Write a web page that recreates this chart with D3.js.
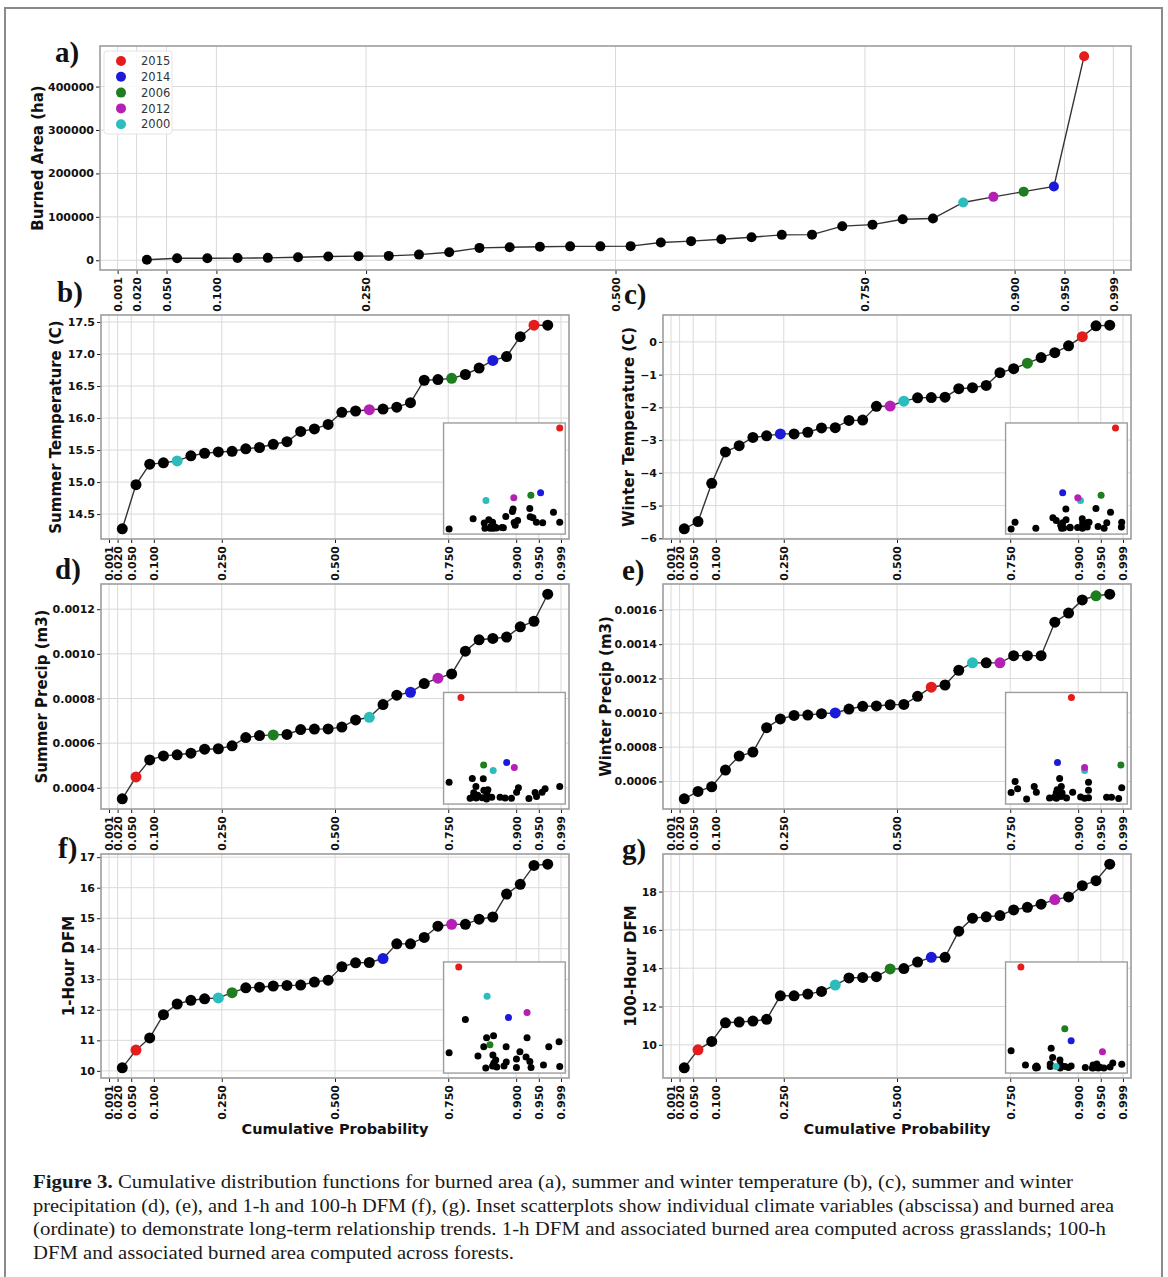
<!DOCTYPE html>
<html>
<head>
<meta charset="utf-8">
<script src="https://cdn.jsdelivr.net/npm/d3@7"></script>
<style>
  body { margin: 0; background: #fff; }
  svg { display: block; }
</style>
</head>
<body>
<svg id="fig" width="1168" height="1277"></svg>
<script>
// x-axis probability ticks (shared by all panels)
const probTicks = [0.001, 0.02, 0.05, 0.1, 0.25, 0.5, 0.75, 0.9, 0.95, 0.999];

// highlighted years and their colours
const years = ['2015', '2014', '2006', '2012', '2000'];
const yearColors = ['#e41c1c', '#1a1ad8', '#1e7d1e', '#b41fb4', '#2bbcbc'];

// sorted values, 32 years each
const burnedArea = [1000, 4500, 4500, 5000, 5500, 7000, 8500, 9500, 10000, 13000, 18500, 28500, 30000, 31000, 32000, 32000,
  32500, 41000, 44000, 48500, 53000, 58500, 59000, 78500, 82000, 94500, 96000, 133000, 146000, 158000, 170000, 470000];
const summerTemp = [14.27, 14.96, 15.28, 15.30, 15.33, 15.41, 15.45, 15.47, 15.48, 15.52, 15.54, 15.59, 15.63, 15.79, 15.83, 15.90,
  16.09, 16.11, 16.13, 16.14, 16.17, 16.24, 16.59, 16.60, 16.62, 16.68, 16.78, 16.90, 16.96, 17.27, 17.45, 17.45];
const winterTemp = [-5.71, -5.49, -4.32, -3.36, -3.17, -2.92, -2.87, -2.81, -2.81, -2.76, -2.63, -2.62, -2.40, -2.39, -1.97, -1.96,
  -1.81, -1.71, -1.70, -1.69, -1.43, -1.40, -1.33, -0.94, -0.82, -0.65, -0.48, -0.33, -0.12, 0.16, 0.49, 0.51];
const summerPrecip = [0.000351, 0.000449, 0.000525, 0.000543, 0.000548, 0.000555, 0.000573, 0.000575, 0.000588, 0.000625, 0.000634,
  0.000637, 0.000639, 0.000661, 0.000663, 0.000664, 0.000672, 0.000704, 0.000716, 0.000773, 0.000815, 0.000828, 0.000867, 0.000891,
  0.000910, 0.001012, 0.001063, 0.001069, 0.001075, 0.001121, 0.001146, 0.001267];
const winterPrecip = [0.000499, 0.000542, 0.000569, 0.000666, 0.000748, 0.000771, 0.000913, 0.000964, 0.000985, 0.000987, 0.000995,
  0.000999, 0.001022, 0.001038, 0.001040, 0.001047, 0.001049, 0.001096, 0.001149, 0.001162, 0.001248, 0.001291, 0.001291, 0.001291,
  0.001333, 0.001333, 0.001333, 0.001528, 0.001581, 0.001658, 0.001682, 0.001691];
const dfm1 = [10.10, 10.68, 11.08, 11.84, 12.19, 12.31, 12.36, 12.39, 12.56, 12.72, 12.74, 12.78, 12.80, 12.81, 12.91, 12.97,
  13.41, 13.54, 13.55, 13.68, 14.16, 14.16, 14.37, 14.74, 14.80, 14.80, 14.97, 15.04, 15.79, 16.11, 16.73, 16.77];
const dfm100 = [8.80, 9.74, 10.18, 11.15, 11.19, 11.24, 11.33, 12.56, 12.56, 12.65, 12.79, 13.12, 13.49, 13.52, 13.56, 13.96,
  13.98, 14.32, 14.57, 14.57, 15.93, 16.61, 16.68, 16.75, 17.04, 17.18, 17.34, 17.58, 17.72, 18.31, 18.57, 19.43];

// rank (1-based) of 2015, 2014, 2006, 2012, 2000 in each sorted series
const areaHi = [32, 31, 30, 29, 28];
const summerTempHi = [31, 28, 25, 19, 5];
const winterTempHi = [30, 8, 26, 16, 17];
const summerPrecipHi = [2, 22, 12, 24, 19];
const winterPrecipHi = [19, 12, 31, 24, 22];
const dfm1Hi = [2, 20, 9, 25, 8];
const dfm100Hi = [2, 19, 16, 28, 12];

// burned area of highlighted years in the insets (grassland / forest insets in relative units)
const yearArea = [470000, 170000, 158000, 146000, 133000];
const grassYearArea = [100, 50, 23, 55, 71];
const forestYearArea = [100, 27, 39, 16, 1.6];

// inset scatter, remaining years: [climate value, burned area]
const insetSummerTemp = [[14.27, 1000], [14.96, 48500], [15.28, 28500], [15.30, 4500], [15.41, 44000], [15.45, 5000], [15.47, 13000],
  [15.48, 9500], [15.52, 32000], [15.54, 4500], [15.59, 10000], [15.63, 5500], [15.79, 8500], [15.83, 7000], [15.90, 59000],
  [16.09, 82000], [16.11, 94500], [16.14, 31000], [16.17, 18500], [16.24, 41000], [16.59, 96000], [16.60, 58500], [16.68, 53000],
  [16.78, 32500], [16.96, 30000], [17.27, 78500], [17.45, 32000]];
const insetWinterTemp = [[-5.71, 1000], [-5.49, 32000], [-4.32, 4500], [-3.36, 53000], [-3.17, 41000], [-2.92, 18500], [-2.87, 4500],
  [-2.81, 30000], [-2.76, 5500], [-2.63, 94500], [-2.62, 44000], [-2.40, 9500], [-2.39, 7000], [-1.97, 8500], [-1.71, 48500],
  [-1.70, 5000], [-1.69, 28500], [-1.43, 10000], [-1.40, 31000], [-1.33, 32500], [-0.94, 96000], [-0.82, 13000], [-0.48, 4500],
  [-0.33, 30000], [-0.12, 78500], [0.49, 10000], [0.51, 32000]];
const insetSummerPrecip = [[0.000351, 78500], [0.000525, 4500], [0.000543, 96000], [0.000548, 10000], [0.000555, 30000],
  [0.000573, 59000], [0.000575, 5000], [0.000588, 18500], [0.000625, 7000], [0.000634, 94500], [0.000639, 41000], [0.000661, 1000],
  [0.000663, 28500], [0.000664, 13000], [0.000672, 44000], [0.000704, 9500], [0.000773, 8500], [0.000815, 5500], [0.000867, 4500],
  [0.000910, 32000], [0.000925, 53000], [0.001012, 3000], [0.001063, 31000], [0.001075, 13000], [0.001121, 32500],
  [0.001146, 48500], [0.001267, 58500]];
const insetWinterPrecip = [[0.000499, 31000], [0.000542, 82000], [0.000569, 48500], [0.000666, 1000], [0.000748, 59000],
  [0.000771, 32000], [0.000913, 5000], [0.000964, 9500], [0.000985, 28500], [0.000987, 4500], [0.000995, 44000], [0.001022, 96000],
  [0.001038, 13000], [0.001040, 58500], [0.001047, 30000], [0.001049, 18500], [0.001096, 5500], [0.001162, 32500], [0.001248, 10000],
  [0.001291, 4500], [0.001333, 78500], [0.001333, 41000], [0.001333, 7000], [0.001528, 8500], [0.001581, 9000], [0.001658, 3000],
  [0.001691, 53000]];
const insetDfm1 = [[10.10, 15], [11.08, 48], [11.84, 12], [12.19, 21], [12.31, 0], [12.36, 30], [12.72, 2], [12.74, 13], [12.78, 32],
  [12.80, 5], [12.81, 4], [12.91, 8], [12.97, 1], [13.41, 2], [13.54, 21], [13.55, 6], [14.16, 0.5], [14.16, 9], [14.37, 16],
  [14.74, 11], [14.80, 30], [14.97, 6.5], [15.04, 0.5], [15.79, 3], [16.11, 21], [16.73, 26], [16.77, 1.5]];
const insetDfm100 = [[8.80, 17], [10.18, 3], [11.15, 1], [11.19, 0], [11.24, 2], [11.33, 0.5], [12.56, 1.5], [12.56, 4], [12.65, 19.5],
  [12.79, 10.5], [13.49, 8], [13.52, 0], [13.56, 3], [13.98, 1.5], [14.32, 0.5], [14.57, 2], [15.93, 0.5], [16.61, 0], [16.68, 3],
  [16.75, 0.3], [17.04, 4], [17.18, 0], [17.34, 0.8], [17.72, 0], [18.31, 1], [18.57, 5], [19.43, 3.8]];

// y tick values
const areaTicks = [0, 100000, 200000, 300000, 400000];
const summerTempTicks = [14.5, 15.0, 15.5, 16.0, 16.5, 17.0, 17.5];
const winterTempTicks = [-6, -5, -4, -3, -2, -1, 0];
const summerPrecipTicks = [0.0004, 0.0006, 0.0008, 0.0010, 0.0012];
const winterPrecipTicks = [0.0006, 0.0008, 0.0010, 0.0012, 0.0014, 0.0016];
const dfm1Ticks = [10, 11, 12, 13, 14, 15, 16, 17];
const dfm100Ticks = [10, 12, 14, 16, 18];

const captionLines = [
  'Cumulative distribution functions for burned area (a), summer and winter temperature (b), (c), summer and winter',
  'precipitation (d), (e), and 1-h and 100-h DFM (f), (g). Inset scatterplots show individual climate variables (abscissa) and burned area',
  '(ordinate) to demonstrate long-term relationship trends. 1-h DFM and associated burned area computed across grasslands; 100-h',
  'DFM and associated burned area computed across forests.'
];

const svg = d3.select('#fig');
const sans = 'DejaVu Sans, Verdana, sans-serif';
const serif = 'Liberation Serif, Times New Roman, serif';

// plotting positions i/(n+1)
const plotPos = burnedArea.map((d, i) => (i + 1) / (burnedArea.length + 1));

function pad(ext) {
  const m = (ext[1] - ext[0]) * 0.05;
  return [ext[0] - m, ext[1] + m];
}

const panels = [
  { tag: 'a)', tagXY: [55, 62], ylab: 'Burned Area (ha)', ylabX: 38, box: [100, 46, 1131, 270], values: burnedArea, hi: areaHi,
    ticks: areaTicks, fmt: d3.format('d'), r: 5 },
  { tag: 'b)', tagXY: [57, 302], ylab: 'Summer Temperature (C)', ylabX: 56, box: [101, 315, 569, 539], values: summerTemp, hi: summerTempHi,
    ticks: summerTempTicks, fmt: d3.format('.1f'), r: 5.5, inset: insetSummerTemp, insetHiArea: yearArea },
  { tag: 'c)', tagXY: [624, 304], ylab: 'Winter Temperature (C)', ylabX: 629, box: [663, 315, 1131, 539], values: winterTemp, hi: winterTempHi,
    ticks: winterTempTicks, fmt: d3.format('d'), r: 5.5, inset: insetWinterTemp, insetHiArea: yearArea },
  { tag: 'd)', tagXY: [55, 579], ylab: 'Summer Precip (m3)', ylabX: 42, box: [101, 584, 569, 809], values: summerPrecip, hi: summerPrecipHi,
    ticks: summerPrecipTicks, fmt: d3.format('.4f'), r: 5.5, inset: insetSummerPrecip, insetHiArea: yearArea },
  { tag: 'e)', tagXY: [622, 580], ylab: 'Winter Precip (m3)', ylabX: 606, box: [663, 584, 1131, 809], values: winterPrecip, hi: winterPrecipHi,
    ticks: winterPrecipTicks, fmt: d3.format('.4f'), r: 5.5, inset: insetWinterPrecip, insetHiArea: yearArea },
  { tag: 'f)', tagXY: [58, 858], ylab: '1-Hour DFM', ylabX: 69, box: [101, 854, 569, 1078], values: dfm1, hi: dfm1Hi,
    ticks: dfm1Ticks, fmt: d3.format('d'), r: 5.5, inset: insetDfm1, insetHiArea: grassYearArea, xlab: true },
  { tag: 'g)', tagXY: [622, 859], ylab: '100-Hour DFM', ylabX: 631, box: [663, 854, 1131, 1078], values: dfm100, hi: dfm100Hi,
    ticks: dfm100Ticks, fmt: d3.format('d'), r: 5.5, inset: insetDfm100, insetHiArea: forestYearArea, xlab: true }
];

function drawPanel(p) {
  const [x0, y0, x1, y1] = p.box;
  const g = svg.append('g');
  const x = d3.scaleLinear().domain(pad(d3.extent(plotPos))).range([x0, x1]);
  const y = d3.scaleLinear().domain(pad(d3.extent(p.values))).range([y1, y0]);

  g.append('rect').attr('x', x0).attr('y', y0).attr('width', x1 - x0).attr('height', y1 - y0).attr('fill', '#fff');

  // grid
  g.append('g').selectAll('line').data(probTicks).join('line')
    .attr('x1', d => x(d)).attr('x2', d => x(d)).attr('y1', y0).attr('y2', y1)
    .attr('stroke', '#dadada').attr('stroke-width', 1);
  g.append('g').selectAll('line').data(p.ticks).join('line')
    .attr('y1', d => y(d)).attr('y2', d => y(d)).attr('x1', x0).attr('x2', x1)
    .attr('stroke', '#dadada').attr('stroke-width', 1);

  // axes
  const xa = g.append('g').attr('transform', `translate(0,${y1})`)
    .call(d3.axisBottom(x).tickValues(probTicks).tickFormat(d3.format('.3f')).tickSize(4).tickSizeOuter(0));
  xa.select('.domain').remove();
  xa.selectAll('text').attr('transform', 'rotate(-90)').attr('x', -7).attr('y', 0).attr('dy', '0.35em')
    .style('text-anchor', 'end');
  const ya = g.append('g').attr('transform', `translate(${x0},0)`)
    .call(d3.axisLeft(y).tickValues(p.ticks).tickFormat(p.fmt).tickSize(4).tickPadding(2).tickSizeOuter(0));
  ya.select('.domain').remove();
  [xa, ya].forEach(a => a.attr('font-family', sans).attr('font-size', 11).attr('font-weight', 'bold')
    .attr('color', '#222'));
  ya.selectAll('text').attr('fill', '#111');
  xa.selectAll('text').attr('fill', '#111');

  // line and points
  const line = d3.line().x((d, i) => x(plotPos[i])).y(d => y(d));
  g.append('path').datum(p.values).attr('d', line).attr('fill', 'none').attr('stroke', '#333').attr('stroke-width', 1.4);
  const colorOf = i => {
    const k = p.hi.indexOf(i + 1);
    return k >= 0 ? yearColors[k] : '#000';
  };
  g.append('g').selectAll('circle').data(p.values).join('circle')
    .attr('cx', (d, i) => x(plotPos[i])).attr('cy', d => y(d)).attr('r', p.r)
    .attr('fill', (d, i) => colorOf(i));

  // frame
  g.append('rect').attr('x', x0).attr('y', y0).attr('width', x1 - x0).attr('height', y1 - y0)
    .attr('fill', 'none').attr('stroke', '#9d9d9d').attr('stroke-width', 1.6);

  // inset
  if (p.inset) {
    const w = x1 - x0, h = y1 - y0;
    const ix0 = x0 + w * 0.732, ix1 = x0 + w * 0.992, iy0 = y0 + h * 0.482, iy1 = y0 + h * 0.978;
    const hiPts = p.hi.map((r, k) => [p.values[r - 1], p.insetHiArea[k], yearColors[k]]);
    const all = p.inset.map(d => [d[0], d[1], '#000']).concat(hiPts.slice().reverse());
    const sx = d3.scaleLinear().domain(pad(d3.extent(all, d => d[0]))).range([ix0, ix1]);
    const sy = d3.scaleLinear().domain(pad(d3.extent(all, d => d[1]))).range([iy1, iy0]);
    g.append('rect').attr('x', ix0).attr('y', iy0).attr('width', ix1 - ix0).attr('height', iy1 - iy0)
      .attr('fill', '#fff').attr('stroke', '#9d9d9d').attr('stroke-width', 1.4);
    g.append('g').selectAll('circle').data(all).join('circle')
      .attr('cx', d => sx(d[0])).attr('cy', d => sy(d[1])).attr('r', 3.5).attr('fill', d => d[2]);
  }

  // labels
  svg.append('text').attr('x', p.tagXY[0]).attr('y', p.tagXY[1]).text(p.tag)
    .attr('font-family', serif).attr('font-weight', 'bold').attr('font-size', 29).attr('fill', '#111');
  svg.append('text').attr('transform', `translate(${p.ylabX},${(y0 + y1) / 2}) rotate(-90)`)
    .attr('text-anchor', 'middle').attr('dominant-baseline', 'central').text(p.ylab)
    .attr('font-family', sans).attr('font-weight', 'bold').attr('font-size', 15).attr('fill', '#111');
  if (p.xlab) {
    svg.append('text').attr('x', (x0 + x1) / 2).attr('y', 1134).attr('text-anchor', 'middle').text('Cumulative Probability')
      .attr('font-family', sans).attr('font-weight', 'bold').attr('font-size', 14.5).attr('fill', '#111');
  }
}

panels.forEach(drawPanel);

// legend of panel a
const leg = svg.append('g');
leg.append('rect').attr('x', 104).attr('y', 51).attr('width', 68).attr('height', 83).attr('rx', 3)
  .attr('fill', '#fff').attr('fill-opacity', 0.85).attr('stroke', '#e3e3e3');
years.forEach((yr, k) => {
  leg.append('circle').attr('cx', 121).attr('cy', 61 + k * 15.8).attr('r', 5).attr('fill', yearColors[k]);
  leg.append('text').attr('x', 141).attr('y', 61 + k * 15.8).attr('dy', '0.36em').text(yr)
    .attr('font-family', sans).attr('font-size', 11.5).attr('fill', '#333');
});

// outer frame
svg.append('rect').attr('x', 5).attr('y', 8).attr('width', 1157).attr('height', 1290)
  .attr('fill', 'none').attr('stroke', '#8a8a8a').attr('stroke-width', 2);

// caption
const capWidths = [1040, 1081, 1073, 481];
captionLines.forEach((t, k) => {
  const tx = svg.append('text').attr('x', 33).attr('y', 1188 + k * 23.5)
    .attr('font-family', serif).attr('font-size', 19).attr('fill', '#1a1a1a')
    .attr('textLength', capWidths[k]).attr('lengthAdjust', 'spacingAndGlyphs');
  if (k === 0) tx.append('tspan').attr('font-weight', 'bold').text('Figure 3. ');
  tx.append('tspan').text(t);
});
</script>
</body>
</html>
